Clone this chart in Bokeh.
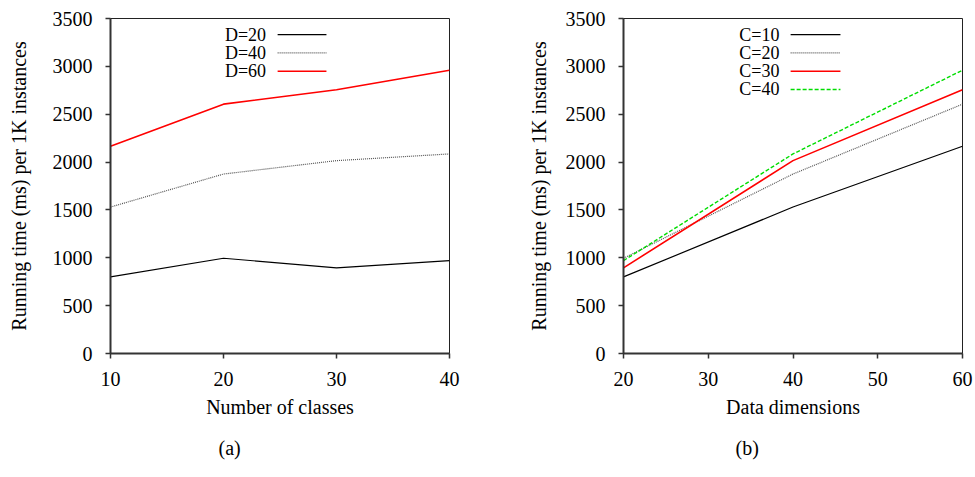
from bokeh.plotting import figure
from bokeh.layouts import row
from bokeh.models import Label, Title, FixedTicker, Range1d
from bokeh.embed import file_html
from bokeh.resources import INLINE

# ---- data ----
classes = [10, 20, 30, 40]
d20 = [800, 995, 895, 970]
d40 = [1530, 1875, 2015, 2085]
d60 = [2165, 2605, 2755, 2960]

dims = [20, 40, 60]
c10 = [800, 1530, 2165]
c20 = [995, 1875, 2605]
c30 = [895, 2015, 2755]
c40 = [970, 2085, 2960]

y_ticks = [0, 500, 1000, 1500, 2000, 2500, 3000, 3500]
x_ticks_a = [10, 20, 30, 40]
x_ticks_b = [20, 30, 40, 50, 60]

FONT = "Liberation Serif"
FS = "20px"
LFS = "18px"
Y_MAX = 3500

styles = {
    "black": dict(line_color="black", line_width=1.2, line_dash="solid"),
    "gray": dict(line_color="#555555", line_width=1.2, line_dash="1 1"),
    "red": dict(line_color="#ff0000", line_width=1.6, line_dash="solid"),
    "green": dict(line_color="#00dd00", line_width=1.4, line_dash="4 2"),
}


def make_fig(width, border_left, border_right, xr, xticks, xlabel, caption,
             cap_offset, ylabel_standoff):
    p = figure(width=width, height=477, output_backend="svg", toolbar_location=None,
               x_range=Range1d(*xr), y_range=Range1d(0, Y_MAX),
               min_border_left=border_left, min_border_right=border_right,
               min_border_top=18, min_border_bottom=122)
    p.grid.visible = False
    p.background_fill_color = "white"
    p.border_fill_color = "white"
    p.outline_line_color = "#222222"
    p.outline_line_width = 1
    for ax in (p.xaxis[0], p.yaxis[0]):
        ax.axis_line_color = "#333333"
        ax.axis_line_width = 2
        ax.major_tick_line_color = "#333333"
        ax.major_tick_line_width = 1.5
        ax.major_tick_in = 0
        ax.major_tick_out = 5
        ax.minor_tick_line_color = None
        ax.major_label_text_font = FONT
        ax.major_label_text_font_size = FS
        ax.major_label_text_color = "black"
        ax.axis_label_text_font = FONT
        ax.axis_label_text_font_size = FS
        ax.axis_label_text_font_style = "normal"
        ax.axis_label_text_color = "black"
    p.xaxis.ticker = FixedTicker(ticks=xticks)
    p.yaxis.ticker = FixedTicker(ticks=y_ticks)
    p.xaxis.axis_label = xlabel
    p.yaxis.axis_label = "Running time (ms) per 1K instances"
    p.xaxis.major_label_standoff = 13
    p.yaxis.major_label_standoff = 13
    p.xaxis.axis_label_standoff = 7
    p.yaxis.axis_label_standoff = ylabel_standoff
    p.add_layout(Title(text=caption, align="left", offset=cap_offset,
                       vertical_align="top",
                       text_font=FONT, text_font_size=FS, text_font_style="normal",
                       text_color="black", standoff=33), "below")
    return p


def add_legend(p, xr, names, keys, fx_text, fx_l0, fx_l1, fy0, dfy):
    x0, x1 = xr
    for i, (name, key) in enumerate(zip(names, keys)):
        fy = fy0 - i * dfy
        yy = Y_MAX * fy
        p.add_layout(Label(x=x0 + (x1 - x0) * fx_text, y=yy, text=name,
                           text_align="right", text_baseline="middle",
                           text_font=FONT, text_font_size=LFS, text_color="black"))
        p.segment(x0=[x0 + (x1 - x0) * fx_l0], y0=[yy], x1=[x0 + (x1 - x0) * fx_l1],
                  y1=[yy], **styles[key])


# ---- (a) ----
xr_a = (10, 40)
pa = make_fig(489, 110, 40, xr_a, x_ticks_a, "Number of classes", "(a)", 108, 20)
pa.line(classes, d20, **styles["black"])
pa.line(classes, d40, **styles["gray"])
pa.line(classes, d60, **styles["red"])
add_legend(pa, xr_a, ["D=20", "D=40", "D=60"], ["black", "gray", "red"],
           0.459, 0.493, 0.637, 0.9516, 0.0545)

# ---- (b) ----
xr_b = (20, 60)
pb = make_fig(486, 134, 13, xr_b, x_ticks_b, "Data dimensions", "(b)", 112, 13)
pb.line(dims, c10, **styles["black"])
pb.line(dims, c20, **styles["gray"])
pb.line(dims, c30, **styles["red"])
pb.line(dims, c40, **styles["green"])
add_legend(pb, xr_b, ["C=10", "C=20", "C=30", "C=40"], ["black", "gray", "red", "green"],
           0.460, 0.493, 0.640, 0.9516, 0.0545)

layout = row(pa, pb)
open("out.html", "w").write(file_html(layout, INLINE))
